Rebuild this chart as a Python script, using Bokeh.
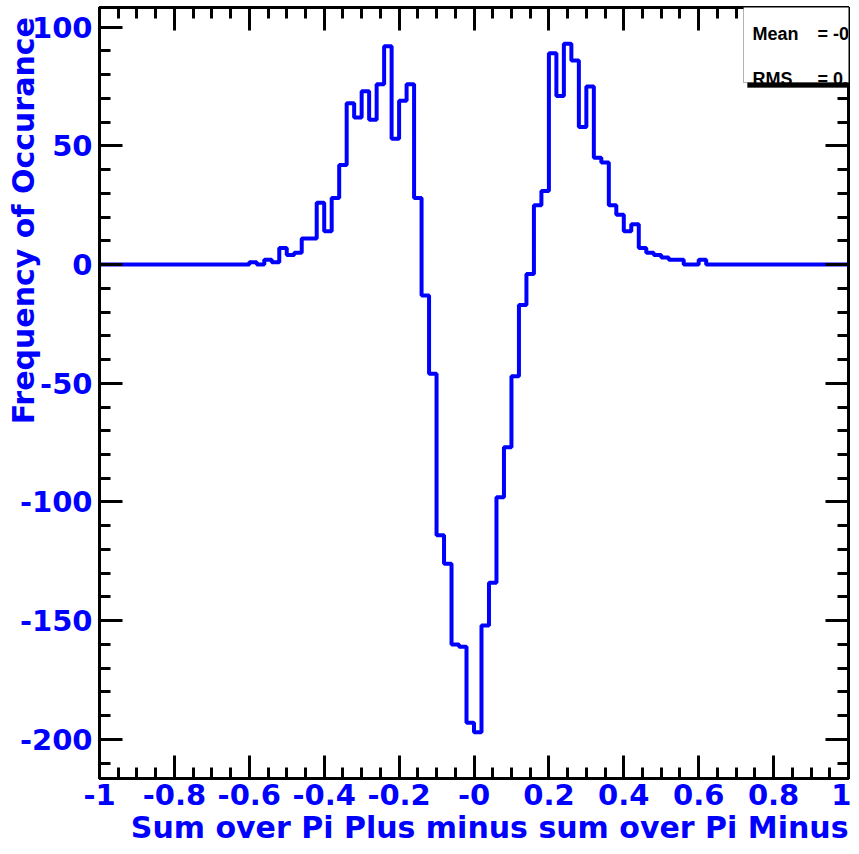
import numpy as np
from bokeh.plotting import figure
from bokeh.models import Range1d, LinearAxis, FixedTicker, Label, BoxAnnotation, Title
from bokeh.embed import file_html
from bokeh.resources import INLINE

# ---- data -------------------------------------------------------------
bin_low = -1.0
bin_high = 1.0
n_bins = 100
counts = [
    0, 0, 0, 0, 0, 0, 0, 0, 0, 0,
    0, 0, 0, 0, 0, 0, 0, 0, 0, 0,
    1, 0, 2, 1, 7, 4, 5, 11, 11, 26,
    14, 28, 42, 68, 62, 73, 61, 76, 92, 53,
    69, 76, 28, -13, -46, -114, -126, -160, -161, -193,
    -197, -152, -134, -98, -77, -47, -17, -4, 25, 31,
    89, 71, 93, 86, 58, 75, 45, 43, 25, 21,
    14, 17, 7, 5, 4, 3, 2, 2, 0, 0,
    2, 0, 0, 0, 0, 0, 0, 0, 0, 0,
    0, 0, 0, 0, 0, 0, 0, 0, 0, 0,
]
x_tick_vals = [-1.0, -0.8, -0.6, -0.4, -0.2, 0.0, 0.2, 0.4, 0.6, 0.8, 1.0]
x_tick_labels = ["-1", "-0.8", "-0.6", "-0.4", "-0.2", "-0", "0.2", "0.4", "0.6", "0.8", "1"]
y_tick_vals = [-200, -150, -100, -50, 0, 50, 100]
y_tick_labels = ["-200", "-150", "-100", "-50", "0", "50", "100"]
x_title = "Sum over Pi Plus minus sum over Pi Minus"
y_title = "Frequency of Occurance"
stats_names = ["Mean", "RMS"]
stats_values = ["= -0.01637", "= 0.1932"]

# ---- figure -----------------------------------------------------------
edges = np.linspace(bin_low, bin_high, n_bins + 1)
step_y = list(counts) + [counts[-1]]

FONT = "DejaVu Sans"
STAT_FONT = "Liberation Sans"
BLUE = "#0000ff"

p = figure(width=851, height=846,
           x_range=Range1d(bin_low, bin_high), y_range=Range1d(-216.5, 108.3),
           x_axis_type=None, y_axis_type=None,
           output_backend="svg", toolbar_location=None,
           min_border_left=99, min_border_right=3,
           min_border_top=7, min_border_bottom=68)
p.background_fill_color = "white"
p.border_fill_color = "white"
p.outline_line_color = "black"
p.outline_line_width = 3

p.step(x=edges, y=step_y, mode="after", line_color=BLUE, line_width=4)

x_minor = list(np.round(np.arange(-1.0, 1.0001, 0.05), 2))
y_minor = list(range(-210, 110, 10))


def style(ax, show_labels):
    ax.axis_line_color = "black"
    ax.axis_line_width = 3
    ax.major_tick_in = 23
    ax.major_tick_out = 0
    ax.minor_tick_in = 11
    ax.minor_tick_out = 0
    ax.major_tick_line_width = 3
    ax.minor_tick_line_width = 3
    ax.major_tick_line_color = "black"
    ax.minor_tick_line_color = "black"
    if show_labels:
        ax.major_label_text_font = FONT
        ax.major_label_text_font_style = "bold"
        ax.major_label_text_font_size = "29px"
        ax.major_label_text_color = BLUE
        ax.axis_label_text_font = FONT
        ax.axis_label_text_font_style = "bold"
        ax.axis_label_text_font_size = "30px"
        ax.axis_label_text_color = BLUE
    else:
        ax.major_label_text_font_size = "1px"
        ax.major_label_standoff = 0


xb = LinearAxis(ticker=FixedTicker(ticks=x_tick_vals, minor_ticks=x_minor),
                major_label_overrides=dict(zip(x_tick_vals, x_tick_labels)))
style(xb, True)
xb.major_label_standoff = 5
p.add_layout(xb, "below")

# x title: right-aligned at the end of the axis (ROOT style)
p.add_layout(Title(text=x_title, align="right", vertical_align="bottom",
                   offset=0, standoff=0, text_color=BLUE, text_font=FONT,
                   text_font_style="bold", text_font_size="30px"), "below")

xt = LinearAxis(ticker=FixedTicker(ticks=x_tick_vals, minor_ticks=x_minor),
                major_label_overrides={v: "" for v in x_tick_vals})
style(xt, False)
p.add_layout(xt, "above")

# y title: pushed towards the top end of the axis (ROOT style)
yl = LinearAxis(ticker=FixedTicker(ticks=y_tick_vals, minor_ticks=y_minor),
                major_label_overrides=dict(zip(y_tick_vals, y_tick_labels)),
                axis_label="\u00a0" * 33 + y_title)
style(yl, True)
yl.major_label_standoff = 7
yl.axis_label_standoff = -24
p.add_layout(yl, "left")

yr = LinearAxis(ticker=FixedTicker(ticks=y_tick_vals, minor_ticks=y_minor),
                major_label_overrides={v: "" for v in y_tick_vals})
style(yr, False)
p.add_layout(yr, "right")

# statistics box (clipped by the page edge as in the original)
p.add_layout(BoxAnnotation(left=648, right=830, bottom=691, top=800,
                           left_units="screen", right_units="screen",
                           bottom_units="screen", top_units="screen",
                           fill_color="black", fill_alpha=1.0,
                           line_color="black", line_width=1))
p.add_layout(BoxAnnotation(left=644, right=826, bottom=696, top=804,
                           left_units="screen", right_units="screen",
                           bottom_units="screen", top_units="screen",
                           fill_color="white", fill_alpha=1.0,
                           line_color="black", line_width=1))
for name, val, yy in zip(stats_names, stats_values, [745, 700]):
    p.add_layout(Label(x=653, y=yy, x_units="screen", y_units="screen",
                       text=name, text_align="left", text_baseline="alphabetic",
                       text_color="black", text_font=STAT_FONT,
                       text_font_style="bold", text_font_size="18px"))
    p.add_layout(Label(x=718, y=yy, x_units="screen", y_units="screen",
                       text=val, text_align="left", text_baseline="alphabetic",
                       text_color="black", text_font=STAT_FONT,
                       text_font_style="bold", text_font_size="18px"))

open("out.html", "w").write(file_html(p, INLINE))
